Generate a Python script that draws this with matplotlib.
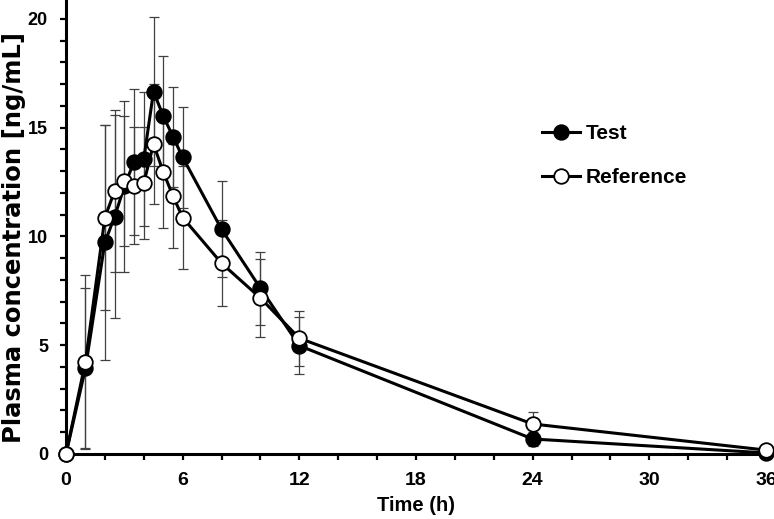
import matplotlib
matplotlib.use('Agg')
import matplotlib.pyplot as plt
from matplotlib.ticker import MultipleLocator

# Sampling times (h)
time = [0, 1, 2, 2.5, 3, 3.5, 4, 4.5, 5, 5.5, 6, 8, 10, 12, 24, 36]

# Mean plasma concentration (ng/mL) and SD
test_mean = [0, 3.94, 9.73, 10.91, 12.30, 13.44, 13.55, 16.66, 15.54, 14.59,
             13.64, 10.33, 7.62, 4.98, 0.69, 0.05]
test_sd = [0, 3.68, 5.40, 4.68, 3.94, 3.35, 3.08, 3.42, 2.76, 2.30,
           2.33, 2.20, 1.68, 1.32, 0.32, 0.08]
ref_mean = [0, 4.24, 10.87, 12.09, 12.55, 12.34, 12.45, 14.25, 12.97, 11.86,
            10.87, 8.77, 7.17, 5.32, 1.38, 0.18]
ref_sd = [0, 3.99, 4.25, 3.73, 3.00, 2.70, 2.58, 2.77, 2.59, 2.40,
          2.38, 1.97, 1.81, 1.27, 0.55, 0.10]

plt.rcParams['font.family'] = ['Liberation Sans', 'DejaVu Sans']
plt.rcParams['font.weight'] = 'bold'
plt.rcParams['axes.labelweight'] = 'bold'

fig = plt.figure(figsize=(7.74, 5.19), dpi=100)
ax = fig.add_axes([66 / 774, 65 / 519, 700 / 774, 454 / 519])

# error bars first, under the markers
ebkw = dict(fmt='none', ecolor='0.25', elinewidth=0.9, capsize=3.5,
            capthick=0.9, zorder=2, clip_on=False)
ax.errorbar(time, test_mean, yerr=test_sd, **ebkw)
ax.errorbar(time, ref_mean, yerr=ref_sd, **ebkw)

ax.plot(time, test_mean, '-o', color='black', lw=2.2, ms=10.5,
        mfc='black', mec='black', mew=1.3, zorder=3, clip_on=False, label='Test')
ax.plot(time, ref_mean, '-o', color='black', lw=2.2, ms=10.5,
        mfc='white', mec='black', mew=1.3, zorder=4, clip_on=False, label='Reference')

ax.set_xlim(0, 36)
ax.set_ylim(0, 20.87)
ax.xaxis.set_major_locator(MultipleLocator(6))
ax.xaxis.set_minor_locator(MultipleLocator(2))
ax.set_yticks([0, 5, 10, 15, 20])
ax.yaxis.set_minor_locator(MultipleLocator(1))

for s in ['top', 'right']:
    ax.spines[s].set_visible(False)
for s in ['left', 'bottom']:
    ax.spines[s].set_linewidth(2.2)

ax.tick_params(which='both', direction='out', width=1.6, length=4)
ax.tick_params(axis='x', labelsize=14, pad=9)
ax.tick_params(axis='y', labelsize=13, pad=9)

ax.set_xlabel('Time (h)', fontsize=14.5, labelpad=5)
ax.set_ylabel('Plasma concentration [ng/mL]', family='DejaVu Sans',
              fontsize=17.5)
ax.yaxis.set_label_coords(-0.057, 0.477)

ax.legend(loc='upper left', bbox_to_anchor=(542 / 774, 1 - 124 / 519),
          bbox_transform=fig.transFigure, frameon=False,
          prop={'size': 15, 'weight': 'bold'},
          handlelength=1.8, handletextpad=0.3, labelspacing=1.2,
          borderpad=0, borderaxespad=0)

fig.savefig('out.png', dpi=100)
